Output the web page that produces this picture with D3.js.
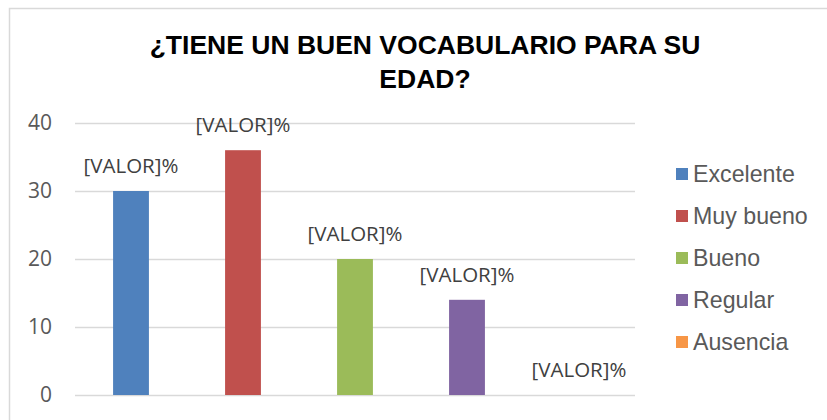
<!DOCTYPE html>
<html>
<head>
<meta charset="utf-8">
<script src="https://cdn.jsdelivr.net/npm/d3@7"></script>
<style>
  body { margin: 0; background: #fff; }
  svg { display: block; }
</style>
</head>
<body>
<svg id="chart" width="827" height="420"></svg>
<script>
// chart data
const categories = ["Excelente", "Muy bueno", "Bueno", "Regular", "Ausencia"];
const values = [30, 36, 20, 14, 0];
const colors = ["#4F81BD", "#C0504D", "#9BBB59", "#8064A2", "#F79646"];
const yTicks = [0, 10, 20, 30, 40];
const titleLines = ["¿TIENE UN BUEN VOCABULARIO PARA SU", "EDAD?"];
const labelText = "[VALOR]%";

const svg = d3.select("#chart");
const plot = { left: 75, right: 635, top: 123, bottom: 395 };

// outer border (right/bottom edges fall outside the picture)
svg.append("rect")
    .attr("x", 9.5).attr("y", 8.5)
    .attr("width", 900).attr("height", 500)
    .attr("fill", "none")
    .attr("stroke", "#d9d9d9")
    .attr("stroke-width", 1.5);

// title
svg.append("text")
    .attr("x", 425).attr("y", 54)
    .attr("text-anchor", "middle")
    .style("font-family", "'Liberation Sans', Arial, sans-serif")
    .style("font-weight", "bold")
    .style("font-size", "26.5px")
    .attr("fill", "#000")
    .selectAll("tspan")
    .data(titleLines)
    .enter()
    .append("tspan")
    .attr("x", 425)
    .attr("dy", (d, i) => i === 0 ? 0 : 34)
    .text(d => d);

const x = d3.scaleBand()
    .domain(categories)
    .range([plot.left, plot.right])
    .paddingInner(0.68)
    .paddingOuter(0.34);

const y = d3.scaleLinear()
    .domain([0, 40])
    .range([plot.bottom, plot.top]);

// grid lines
svg.append("g")
    .attr("transform", `translate(${plot.left},0)`)
    .call(d3.axisLeft(y).tickValues(yTicks).tickSize(-(plot.right - plot.left)).tickFormat(""))
    .call(g => g.select(".domain").remove())
    .call(g => g.selectAll(".tick line").attr("stroke", "#d9d9d9").attr("stroke-width", 1.5));

// y axis labels
svg.append("g")
    .attr("transform", `translate(${plot.left},0)`)
    .call(d3.axisLeft(y).tickValues(yTicks).tickSize(0).tickPadding(23))
    .call(g => g.select(".domain").remove())
    .call(g => g.selectAll(".tick text")
        .attr("fill", "#595959")
        .style("font-family", "'Open Sans', sans-serif")
        .style("font-size", "21px"));

// bars
svg.selectAll("rect.bar")
    .data(values)
    .enter()
    .append("rect")
    .attr("class", "bar")
    .attr("x", (d, i) => x(categories[i]))
    .attr("y", d => y(d))
    .attr("width", x.bandwidth())
    .attr("height", d => y(0) - y(d))
    .attr("fill", (d, i) => colors[i]);

// data labels
svg.selectAll("text.label")
    .data(values)
    .enter()
    .append("text")
    .attr("class", "label")
    .attr("x", (d, i) => x(categories[i]) + x.bandwidth() / 2)
    .attr("y", d => y(d) - 18)
    .attr("text-anchor", "middle")
    .attr("fill", "#404040")
    .style("font-family", "'Open Sans', sans-serif")
    .style("font-size", "20.5px")
    .text(labelText);

// legend
const legend = svg.append("g")
    .selectAll("g")
    .data(categories)
    .enter()
    .append("g")
    .attr("transform", (d, i) => `translate(676,${174 + i * 42})`);

legend.append("rect")
    .attr("x", 0).attr("y", -6)
    .attr("width", 12).attr("height", 12)
    .attr("fill", (d, i) => colors[i]);

legend.append("text")
    .attr("x", 17).attr("y", 8)
    .attr("fill", "#595959")
    .style("font-family", "'Liberation Sans', Arial, sans-serif")
    .style("font-size", "23.2px")
    .text(d => d);
</script>
</body>
</html>
